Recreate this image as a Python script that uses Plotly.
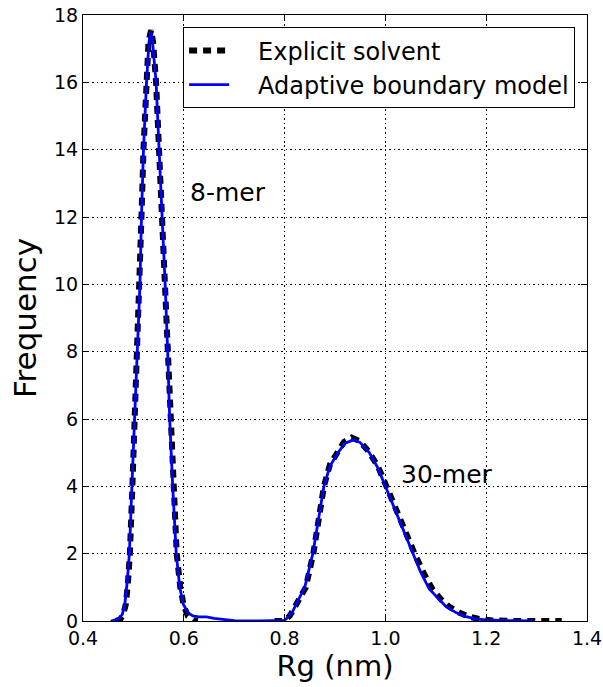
import plotly.graph_objects as go

# Explicit solvent (black dashed)
exp_x = [0.465, 0.474, 0.480, 0.485, 0.489, 0.493, 0.498, 0.503, 0.508, 0.512, 0.516, 0.520, 0.525,
         0.530, 0.535, 0.539, 0.545, 0.551, 0.558, 0.563, 0.568, 0.573, 0.579, 0.586, 0.593, 0.600,
         0.608, 0.615, 0.622, 0.628,
         None,
         0.780, 0.795, 0.803, 0.810, 0.818, 0.826, 0.842, 0.857, 0.867, 0.878, 0.890, 0.905, 0.918,
         0.933, 0.948, 0.966, 0.985, 1.002, 1.022, 1.042, 1.058, 1.075, 1.093, 1.110, 1.126, 1.146,
         1.166, 1.186, 1.210, 1.250, 1.300, 1.350]
exp_y = [0.0, 0.05, 0.2, 0.5, 1.1, 2.0, 4.0, 6.0, 8.0, 10.0, 12.0, 14.0, 16.0,
         17.2, 17.55, 17.2, 16.0, 14.0, 12.0, 10.0, 8.0, 6.0, 4.0, 2.0, 1.0, 0.45,
         0.15, 0.05, 0.01, 0.0,
         None,
         0.0, 0.0, 0.05, 0.15, 0.35, 0.6, 1.0, 2.0, 3.0, 4.0, 4.65, 5.05, 5.32,
         5.45, 5.35, 5.05, 4.6, 4.0, 3.25, 2.5, 2.0, 1.45, 0.95, 0.65, 0.43, 0.25,
         0.13, 0.06, 0.02, 0.0, 0.0, 0.0]

# Adaptive boundary model (blue solid)
abm_x = [0.455, 0.470, 0.478, 0.483, 0.488, 0.492, 0.497, 0.502, 0.508, 0.513, 0.516, 0.520, 0.526,
         0.531, 0.534, 0.538, 0.545, 0.551, 0.558, 0.563, 0.568, 0.572, 0.578, 0.585, 0.592, 0.599,
         0.608, 0.618, 0.630, 0.645, 0.660, 0.680, 0.700, 0.750, 0.790,
         0.800, 0.806, 0.815, 0.823, 0.840, 0.856, 0.867, 0.878, 0.890, 0.906, 0.920, 0.937, 0.950,
         0.968, 0.985, 1.000, 1.020, 1.040, 1.054, 1.070, 1.087, 1.105, 1.120, 1.140, 1.160, 1.180,
         1.200, 1.250, 1.295]
abm_y = [0.0, 0.05, 0.2, 0.5, 1.2, 2.0, 4.0, 6.0, 8.0, 10.0, 12.0, 14.0, 16.0,
         17.2, 17.5, 17.2, 16.0, 14.0, 12.0, 10.0, 8.0, 6.0, 4.0, 2.0, 1.0, 0.5,
         0.25, 0.15, 0.12, 0.12, 0.08, 0.04, 0.01, 0.0, 0.0,
         0.02, 0.1, 0.25, 0.5, 1.0, 2.0, 3.0, 4.0, 4.6, 5.0, 5.28, 5.38, 5.3,
         5.0, 4.55, 4.0, 3.25, 2.5, 2.0, 1.45, 0.95, 0.65, 0.43, 0.25, 0.13, 0.06,
         0.03, 0.01, 0.0]

x_ticks = [0.4, 0.6, 0.8, 1.0, 1.2, 1.4]
x_tick_labels = ["0.4", "0.6", "0.8", "1.0", "1.2", "1.4"]
y_ticks = [0, 2, 4, 6, 8, 10, 12, 14, 16, 18]

labels = ["8-mer", "30-mer"]
label_x = [0.612, 1.031]
label_y = [12.72, 4.34]

FONT = "DejaVu Sans"

fig = go.Figure()
fig.add_trace(go.Scatter(
    x=exp_x, y=exp_y, mode="lines", name="\u2003Explicit solvent",
    line=dict(color="black", width=6, dash="8px,6px"),
    connectgaps=False,
))
fig.add_trace(go.Scatter(
    x=abm_x, y=abm_y, mode="lines", name="\u2003Adaptive boundary model",
    line=dict(color="#0000ff", width=2.8),
))

for t, xx, yy in zip(labels, label_x, label_y):
    fig.add_annotation(x=xx, y=yy, text=t, showarrow=False, xanchor="left", yanchor="middle",
                       xshift=-2, font=dict(family=FONT, size=25, color="black"))

axis_common = dict(
    showline=True, linecolor="black", linewidth=1.2, mirror="ticks",
    ticks="inside", ticklen=6, tickcolor="black", tickwidth=1,
    showgrid=True, gridcolor="black", gridwidth=1, griddash="1.5px,3px",
    zeroline=False, automargin=False,
    tickfont=dict(family=FONT, size=19, color="black"),
)

fig.update_layout(
    width=603, height=687,
    margin=dict(l=83, r=16, t=15, b=66),
    paper_bgcolor="white", plot_bgcolor="white",
    font=dict(family=FONT, color="black"),
    xaxis=dict(range=[0.4, 1.4], tickvals=x_ticks, ticktext=x_tick_labels,
               title=dict(text="Rg (nm)", font=dict(family=FONT, size=29), standoff=4),
               **axis_common),
    yaxis=dict(range=[0, 18], tickvals=y_ticks,
               title=dict(text="Frequency", font=dict(family=FONT, size=31), standoff=8),
               **axis_common),
    legend=dict(x=0.976, y=0.980, xanchor="right", yanchor="top",
                bgcolor="white", bordercolor="black", borderwidth=1.2,
                font=dict(family=FONT, size=24, color="black"),
                tracegroupgap=0, itemwidth=40),
    showlegend=True,
)

fig.write_html("out.html", config={"displayModeBar": False},
               post_script="document.body.style.margin='0px';document.body.style.overflow='hidden';")
